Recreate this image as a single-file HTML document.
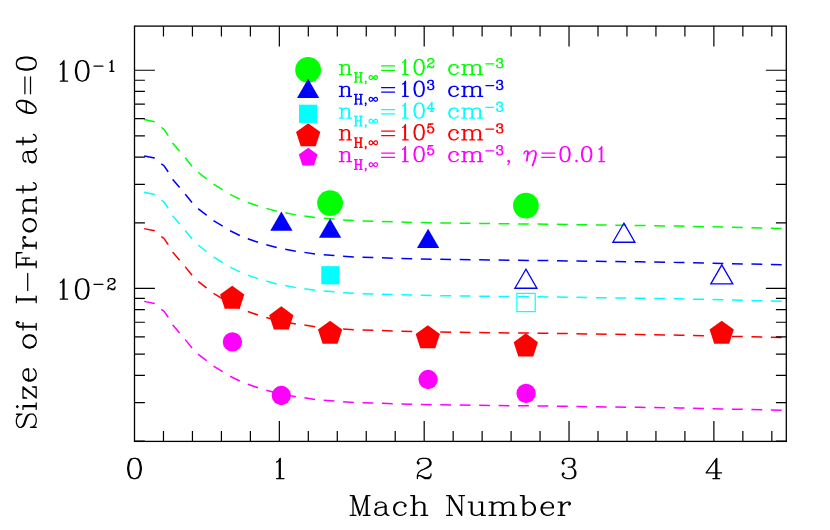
<!DOCTYPE html><html><head><meta charset="utf-8"><title>plot</title>
<style>html,body{margin:0;padding:0;background:#fff;}svg{display:block;font-family:"Liberation Serif",serif;}</style></head><body>
<svg width="830" height="530" viewBox="0 0 830 530">
<title>Size of I-Front at theta=0 versus Mach Number</title>
<desc>Log-scale plot. Y axis: Size of I-Front at theta=0 (10^-2 to 10^-1). X axis: Mach Number (0 to 4). Legend: n_H,inf=10^2 cm^-3 (green circles), n_H,inf=10^3 cm^-3 (blue triangles), n_H,inf=10^4 cm^-3 (cyan squares), n_H,inf=10^5 cm^-3 (red pentagons), n_H,inf=10^5 cm^-3, eta=0.01 (magenta pentagons). Dashed model curves for each density.</desc>
<rect width="830" height="530" fill="#fff"/>
<path d="M144.14 119.54 L154.50 121.70 L161.48 127.50 L164.20 129.60 L168.10 135.40 L172.80 143.20 L179.70 151.30 L185.30 157.80 L192.10 166.30 L198.40 172.50 L206.50 178.80 L213.50 184.20 L222.70 189.80 L230.00 194.30 L239.80 199.10 L247.70 202.40 L258.20 206.00 L266.10 208.30 L276.70 211.20 L285.10 212.80 L295.90 214.90 L304.40 216.00 L315.20 217.60 L323.30 218.30 L334.10 219.10 L343.00 219.90 L353.80 220.60 L362.30 220.90 L373.00 221.20 L381.80 221.40 L393.10 221.80 L412.40 222.40 L431.70 222.80 L451.30 223.10 L509.20 223.80 L537.00 224.10 L640.00 225.50 L680.00 226.10 L781.70 228.40 L786.30 228.50" fill="none" stroke="#00ff00" stroke-width="1.5" stroke-dasharray="10.8 8.65"/>
<path d="M144.14 155.91 L154.50 158.07 L161.48 163.87 L164.20 165.97 L168.10 171.77 L172.80 179.57 L179.70 187.67 L185.30 194.17 L192.10 202.67 L198.40 208.87 L206.50 215.17 L213.50 220.57 L222.70 226.17 L230.00 230.67 L239.80 235.47 L247.70 238.77 L258.20 242.37 L266.10 244.67 L276.70 247.57 L285.10 249.17 L295.90 251.27 L304.40 252.37 L315.20 253.97 L323.30 254.67 L334.10 255.47 L343.00 256.27 L353.80 256.97 L362.30 257.27 L373.00 257.57 L381.80 257.77 L393.10 258.17 L412.40 258.77 L431.70 259.17 L451.30 259.47 L509.20 260.17 L537.00 260.47 L640.00 261.87 L680.00 262.47 L781.70 264.77 L786.30 264.87" fill="none" stroke="#0000ff" stroke-width="1.5" stroke-dasharray="10.8 8.65"/>
<path d="M144.14 192.27 L154.50 194.43 L161.48 200.23 L164.20 202.33 L168.10 208.13 L172.80 215.93 L179.70 224.03 L185.30 230.53 L192.10 239.03 L198.40 245.23 L206.50 251.53 L213.50 256.93 L222.70 262.53 L230.00 267.03 L239.80 271.83 L247.70 275.13 L258.20 278.73 L266.10 281.03 L276.70 283.93 L285.10 285.53 L295.90 287.63 L304.40 288.73 L315.20 290.33 L323.30 291.03 L334.10 291.83 L343.00 292.63 L353.80 293.33 L362.30 293.63 L373.00 293.93 L381.80 294.13 L393.10 294.53 L412.40 295.13 L431.70 295.53 L451.30 295.83 L509.20 296.53 L537.00 296.83 L640.00 298.23 L680.00 298.83 L781.70 301.13 L786.30 301.23" fill="none" stroke="#00ffff" stroke-width="1.5" stroke-dasharray="10.8 8.65"/>
<path d="M144.14 228.64 L154.50 230.80 L161.48 236.60 L164.20 238.70 L168.10 244.50 L172.80 252.30 L179.70 260.40 L185.30 266.90 L192.10 275.40 L198.40 281.60 L206.50 287.90 L213.50 293.30 L222.70 298.90 L230.00 303.40 L239.80 308.20 L247.70 311.50 L258.20 315.10 L266.10 317.40 L276.70 320.30 L285.10 321.90 L295.90 324.00 L304.40 325.10 L315.20 326.70 L323.30 327.40 L334.10 328.20 L343.00 329.00 L353.80 329.70 L362.30 330.00 L373.00 330.30 L381.80 330.50 L393.10 330.90 L412.40 331.50 L431.70 331.90 L451.30 332.20 L509.20 332.90 L537.00 333.20 L640.00 334.60 L680.00 335.20 L781.70 337.50 L786.30 337.60" fill="none" stroke="#ff0000" stroke-width="1.5" stroke-dasharray="10.8 8.65"/>
<path d="M144.14 301.39 L154.50 303.55 L161.48 309.35 L164.20 311.45 L168.10 317.25 L172.80 325.05 L179.70 333.15 L185.30 339.65 L192.10 348.15 L198.40 354.35 L206.50 360.65 L213.50 366.05 L222.70 371.65 L230.00 376.15 L239.80 380.95 L247.70 384.25 L258.20 387.85 L266.10 390.15 L276.70 393.05 L285.10 394.65 L295.90 396.75 L304.40 397.85 L315.20 399.45 L323.30 400.15 L334.10 400.95 L343.00 401.75 L353.80 402.45 L362.30 402.75 L373.00 403.05 L381.80 403.25 L393.10 403.65 L412.40 404.25 L431.70 404.65 L451.30 404.95 L509.20 405.65 L537.00 405.95 L640.00 407.35 L680.00 407.95 L781.70 410.25 L786.30 410.35" fill="none" stroke="#ff00ff" stroke-width="1.5" stroke-dasharray="10.8 8.65"/>
<circle cx="330.06" cy="203.10" r="12.90" fill="#00ff00"/>
<circle cx="525.90" cy="205.60" r="12.90" fill="#00ff00"/>
<polygon points="281.40,211.45 292.53,230.73 270.27,230.73" fill="#0000ff"/>
<polygon points="330.10,218.55 341.23,237.83 318.97,237.83" fill="#0000ff"/>
<polygon points="428.10,228.75 439.23,248.03 416.97,248.03" fill="#0000ff"/>
<polygon points="525.90,269.20 536.90,288.25 514.90,288.25" fill="none" stroke="#0000ff" stroke-width="1.3"/>
<polygon points="623.90,223.20 634.90,242.25 612.90,242.25" fill="none" stroke="#0000ff" stroke-width="1.3"/>
<polygon points="721.80,264.90 732.80,283.95 710.80,283.95" fill="none" stroke="#0000ff" stroke-width="1.3"/>
<rect x="321.30" y="266.15" width="18.20" height="18.20" fill="#00ffff"/>
<rect x="516.90" y="293.35" width="18.30" height="18.30" fill="none" stroke="#00ffff" stroke-width="1.2"/>
<polygon points="232.20,285.75 244.33,294.56 239.69,308.81 224.71,308.81 220.07,294.56" fill="#ff0000"/>
<polygon points="281.30,306.35 293.43,315.16 288.79,329.41 273.81,329.41 269.17,315.16" fill="#ff0000"/>
<polygon points="330.10,320.70 342.23,329.51 337.59,343.76 322.61,343.76 317.97,329.51" fill="#ff0000"/>
<polygon points="427.80,325.15 439.93,333.96 435.29,348.21 420.31,348.21 415.67,333.96" fill="#ff0000"/>
<polygon points="525.80,333.35 537.93,342.16 533.29,356.41 518.31,356.41 513.67,342.16" fill="#ff0000"/>
<polygon points="721.70,320.75 733.83,329.56 729.19,343.81 714.21,343.81 709.57,329.56" fill="#ff0000"/>
<circle cx="232.40" cy="341.90" r="9.65" fill="#ff00ff"/>
<circle cx="281.30" cy="395.50" r="9.65" fill="#ff00ff"/>
<circle cx="428.10" cy="379.50" r="9.65" fill="#ff00ff"/>
<circle cx="526.10" cy="393.40" r="9.65" fill="#ff00ff"/>
<circle cx="308.10" cy="69.90" r="12.90" fill="#00ff00"/>
<polygon points="308.10,78.75 319.23,98.02 296.97,98.02" fill="#0000ff"/>
<rect x="299.05" y="104.70" width="18.20" height="18.20" fill="#00ffff"/>
<polygon points="308.20,123.20 320.33,132.01 315.69,146.26 300.71,146.26 296.07,132.01" fill="#ff0000"/>
<polygon points="308.20,147.75 317.57,154.56 313.99,165.57 302.41,165.57 298.83,154.56" fill="#ff00ff"/>
<g stroke="#000" stroke-width="1.30" fill="none">
<rect x="134.50" y="26.10" width="651.80" height="415.30"/>
<path d="M163.47 441.40V431.00M163.47 26.10V36.50M192.44 441.40V431.00M192.44 26.10V36.50M221.41 441.40V431.00M221.41 26.10V36.50M250.38 441.40V431.00M250.38 26.10V36.50M279.34 441.40V421.00M279.34 26.10V46.50M308.31 441.40V431.00M308.31 26.10V36.50M337.28 441.40V431.00M337.28 26.10V36.50M366.25 441.40V431.00M366.25 26.10V36.50M395.22 441.40V431.00M395.22 26.10V36.50M424.19 441.40V421.00M424.19 26.10V46.50M453.16 441.40V431.00M453.16 26.10V36.50M482.13 441.40V431.00M482.13 26.10V36.50M511.10 441.40V431.00M511.10 26.10V36.50M540.06 441.40V431.00M540.06 26.10V36.50M569.03 441.40V421.00M569.03 26.10V46.50M598.00 441.40V431.00M598.00 26.10V36.50M626.97 441.40V431.00M626.97 26.10V36.50M655.94 441.40V431.00M655.94 26.10V36.50M684.91 441.40V431.00M684.91 26.10V36.50M713.88 441.40V421.00M713.88 26.10V46.50M742.85 441.40V431.00M742.85 26.10V36.50M771.82 441.40V431.00M771.82 26.10V36.50M134.50 440.99H144.90M786.30 440.99H775.90M134.50 402.56H144.90M786.30 402.56H775.90M134.50 375.30H144.90M786.30 375.30H775.90M134.50 354.15H144.90M786.30 354.15H775.90M134.50 336.88H144.90M786.30 336.88H775.90M134.50 322.27H144.90M786.30 322.27H775.90M134.50 309.62H144.90M786.30 309.62H775.90M134.50 298.45H144.90M786.30 298.45H775.90M134.50 288.47H154.90M786.30 288.47H765.90M134.50 222.79H144.90M786.30 222.79H775.90M134.50 184.36H144.90M786.30 184.36H775.90M134.50 157.10H144.90M786.30 157.10H775.90M134.50 135.95H144.90M786.30 135.95H775.90M134.50 118.68H144.90M786.30 118.68H775.90M134.50 104.07H144.90M786.30 104.07H775.90M134.50 91.42H144.90M786.30 91.42H775.90M134.50 80.25H144.90M786.30 80.25H775.90M134.50 70.27H154.90M786.30 70.27H765.90" stroke-width="1.2"/>
</g>
<path d="M133.5 458.3L130.6 459.2L128.7 462.1L127.7 467.0L127.7 469.9L128.7 474.7L130.6 477.6L133.5 478.6L135.5 478.6L138.4 477.6L140.3 474.7L141.3 469.9L141.3 467.0L140.3 462.1L138.4 459.2L135.5 458.3L133.5 458.3L131.6 459.2L130.6 460.2L129.7 462.1L128.7 467.0L128.7 469.9L129.7 474.7L130.6 476.7L131.6 477.6L133.5 478.6M135.5 458.3L137.4 459.2L138.4 460.2L139.3 462.1L140.3 467.0L140.3 469.9L139.3 474.7L138.4 476.7L137.4 477.6L135.5 478.6" fill="none" stroke="#000" stroke-width="1.25" stroke-linecap="round" stroke-linejoin="round"/>
<path d="M276.6 462.1L278.4 461.0L280.3 458.3L280.3 478.6L284.0 478.6M276.6 478.6L280.3 478.6M279.3 459.2L279.3 478.6" fill="none" stroke="#000" stroke-width="1.25" stroke-linecap="round" stroke-linejoin="round"/>
<path d="M417.4 478.6L417.4 475.7L418.4 472.8L420.3 470.9L422.3 469.9L427.1 468.0L430.0 466.0L431.0 464.1L431.0 462.1L430.0 460.2L429.0 459.2L426.1 458.3L422.3 458.3L419.3 459.2L418.4 460.2L417.4 462.1L417.4 463.1L418.4 464.1L419.3 463.1L418.4 462.1M424.2 468.9L426.1 468.0L429.0 466.0L430.0 464.1L430.0 462.1L429.0 460.2L428.1 459.2L426.1 458.3M431.0 473.8L431.0 475.7L430.0 477.6L429.0 478.6L425.2 478.6L420.3 475.7L418.4 475.7L417.4 476.7M420.3 475.7L425.2 477.6L428.1 477.6L430.0 476.7L431.0 475.7" fill="none" stroke="#000" stroke-width="1.25" stroke-linecap="round" stroke-linejoin="round"/>
<path d="M563.2 462.1L564.2 463.1L563.2 464.1L562.3 463.1L562.3 462.1L563.2 460.2L564.2 459.2L567.1 458.3L571.0 458.3L573.9 459.2L574.8 461.2L574.8 464.1L573.9 466.0L571.0 467.0L568.1 467.0M563.2 474.7L564.2 473.8L563.2 472.8L562.3 473.8L562.3 474.7L563.2 476.7L564.2 477.6L567.1 478.6L571.0 478.6L573.9 477.6L574.8 476.7L575.8 474.7L575.8 471.8L574.8 469.9L572.9 468.0L571.0 467.0L572.9 466.0L573.9 464.1L573.9 461.2L572.9 459.2L571.0 458.3M571.0 478.6L572.9 477.6L573.9 476.7L574.8 474.7L574.8 471.8L573.9 468.9" fill="none" stroke="#000" stroke-width="1.25" stroke-linecap="round" stroke-linejoin="round"/>
<path d="M712.9 478.6L719.7 478.6M715.8 460.2L715.8 478.6M721.6 472.8L706.1 472.8L709.0 468.9L713.9 462.1L716.8 458.3L716.8 478.6" fill="none" stroke="#000" stroke-width="1.25" stroke-linecap="round" stroke-linejoin="round"/>
<path d="M60.3 64.5L62.1 63.4L64.0 60.7L64.0 81.0L67.6 81.0M60.3 81.0L64.0 81.0M63.0 61.6L63.0 81.0M81.3 60.7L78.4 61.6L76.5 64.5L75.5 69.4L75.5 72.3L76.5 77.1L78.4 80.0L81.3 81.0L83.2 81.0L86.1 80.0L88.0 77.1L88.9 72.3L88.9 69.4L88.0 64.5L86.1 61.6L83.2 60.7L81.3 60.7L79.3 61.6L78.4 62.6L77.4 64.5L76.5 69.4L76.5 72.3L77.4 77.1L78.4 79.1L79.3 80.0L81.3 81.0M83.2 60.7L85.1 61.6L86.1 62.6L87.0 64.5L88.0 69.4L88.0 72.3L87.0 77.1L86.1 79.1L85.1 80.0L83.2 81.0" fill="none" stroke="#000" stroke-width="1.25" stroke-linecap="round" stroke-linejoin="round"/>
<path d="M94.0 66.2L102.9 66.2" fill="none" stroke="#000" stroke-width="1.25" stroke-linecap="round" stroke-linejoin="round"/>
<path d="M110.0 62.4L111.0 61.7L112.0 60.3L112.0 71.3L113.9 71.3M110.0 71.3L112.0 71.3M111.5 60.8L111.5 71.3" fill="none" stroke="#000" stroke-width="1.25" stroke-linecap="round" stroke-linejoin="round"/>
<path d="M60.3 282.7L62.1 281.6L64.0 278.9L64.0 299.2L67.6 299.2M60.3 299.2L64.0 299.2M63.0 279.8L63.0 299.2M81.3 278.9L78.4 279.8L76.5 282.7L75.5 287.6L75.5 290.5L76.5 295.3L78.4 298.2L81.3 299.2L83.2 299.2L86.1 298.2L88.0 295.3L88.9 290.5L88.9 287.6L88.0 282.7L86.1 279.8L83.2 278.9L81.3 278.9L79.3 279.8L78.4 280.8L77.4 282.7L76.5 287.6L76.5 290.5L77.4 295.3L78.4 297.3L79.3 298.2L81.3 299.2M83.2 278.9L85.1 279.8L86.1 280.8L87.0 282.7L88.0 287.6L88.0 290.5L87.0 295.3L86.1 297.3L85.1 298.2L83.2 299.2" fill="none" stroke="#000" stroke-width="1.25" stroke-linecap="round" stroke-linejoin="round"/>
<path d="M94.0 284.4L102.9 284.4" fill="none" stroke="#000" stroke-width="1.25" stroke-linecap="round" stroke-linejoin="round"/>
<path d="M108.0 289.6L108.0 288.0L108.5 286.4L109.5 285.3L110.5 284.8L113.0 283.7L114.5 282.7L115.0 281.6L115.0 280.6L114.5 279.5L114.0 279.0L112.5 278.5L110.5 278.5L109.0 279.0L108.5 279.5L108.0 280.6L108.0 281.1L108.5 281.6L109.0 281.1L108.5 280.6M111.5 284.3L112.5 283.7L114.0 282.7L114.5 281.6L114.5 280.6L114.0 279.5L113.5 279.0L112.5 278.5M115.0 286.9L115.0 288.0L114.5 289.0L114.0 289.6L112.0 289.6L109.5 288.0L108.5 288.0L108.0 288.5M109.5 288.0L112.0 289.0L113.5 289.0L114.5 288.5L115.0 288.0" fill="none" stroke="#000" stroke-width="1.25" stroke-linecap="round" stroke-linejoin="round"/>
<path d="M350.2 495.6L354.0 495.6L359.6 512.6M350.2 515.4L355.9 515.4M363.4 515.4L370.0 515.4M370.0 495.6L366.3 495.6L359.6 515.4L353.0 495.6L353.0 515.4M366.3 495.6L366.3 515.4M367.2 495.6L367.2 515.4M376.7 504.1L376.7 505.0L375.7 505.0L375.7 504.1L376.7 503.1L378.6 502.2L382.3 502.2L384.2 503.1L385.2 504.1L386.1 505.9L386.1 512.6L387.1 514.5L388.0 515.4L388.9 515.4M378.6 507.8L384.2 506.9L385.2 505.9L385.2 504.1M378.6 507.8L375.7 508.8L374.8 510.7L374.8 512.6L375.7 514.5L378.6 515.4L381.4 515.4L383.3 514.5L385.2 512.6L385.2 505.9M378.6 507.8L376.7 508.8L375.7 510.7L375.7 512.6L376.7 514.5L378.6 515.4M385.2 512.6L386.1 514.5L388.0 515.4M405.0 505.0L404.1 505.9L405.0 506.9L406.0 505.9L406.0 505.0L404.1 503.1L402.2 502.2L399.3 502.2L396.5 503.1L394.6 505.0L393.7 507.8L393.7 509.7L394.6 512.6L396.5 514.5L399.3 515.4L401.2 515.4L404.1 514.5L406.0 512.6M399.3 502.2L397.4 503.1L395.6 505.0L394.6 507.8L394.6 509.7L395.6 512.6L397.4 514.5L399.3 515.4M410.7 495.6L414.5 495.6L414.5 515.4L410.7 515.4M417.3 515.4L414.5 515.4M421.1 515.4L427.7 515.4M413.5 495.6L413.5 515.4M414.5 505.0L416.4 503.1L419.2 502.2L421.1 502.2L423.9 503.1L424.9 505.0L424.9 515.4M421.1 502.2L423.0 503.1L423.9 505.0L423.9 515.4M446.6 495.6L450.4 495.6L452.3 498.4L455.1 503.1L457.0 505.9L459.8 510.7L461.7 513.5L461.7 515.4L459.8 512.6L457.0 507.8L455.1 505.0L452.3 500.3L450.4 497.4M446.6 515.4L452.3 515.4M458.9 495.6L464.5 495.6M449.4 495.6L449.4 515.4M461.7 495.6L461.7 513.5M468.3 502.2L472.1 502.2L472.1 512.6L473.1 514.5L474.9 515.4L476.8 515.4L479.7 514.5L481.6 512.6L481.6 502.2L482.5 502.2L482.5 515.4L481.6 515.4L481.6 512.6M478.7 502.2L481.6 502.2M485.3 515.4L482.5 515.4M471.2 502.2L471.2 512.6L472.1 514.5L474.9 515.4M489.1 502.2L492.9 502.2L492.9 515.4L489.1 515.4M495.7 515.4L492.9 515.4M499.5 515.4L506.1 515.4M509.9 515.4L516.5 515.4M491.9 502.2L491.9 515.4M492.9 505.0L494.8 503.1L497.6 502.2L499.5 502.2L502.3 503.1L503.3 505.0L503.3 515.4M499.5 502.2L501.4 503.1L502.3 505.0L502.3 515.4M503.3 505.0L505.2 503.1L508.0 502.2L509.9 502.2L512.7 503.1L513.7 505.0L513.7 515.4M509.9 502.2L511.8 503.1L512.7 505.0L512.7 515.4M520.3 495.6L524.1 495.6L524.1 515.4M523.1 515.4L523.1 495.6M524.1 505.0L526.0 503.1L527.9 502.2L529.8 502.2L532.6 503.1L534.5 505.0L535.4 507.8L535.4 509.7L534.5 512.6L532.6 514.5L529.8 515.4L527.9 515.4L526.0 514.5L524.1 512.6M529.8 502.2L531.6 503.1L533.5 505.0L534.5 507.8L534.5 509.7L533.5 512.6L531.6 514.5L529.8 515.4M553.4 512.6L551.5 514.5L548.6 515.4L546.8 515.4L543.9 514.5L542.0 512.6L541.1 509.7L541.1 507.8L542.0 505.0L543.9 503.1L546.8 502.2L549.6 502.2L551.5 503.1L552.4 504.1L553.4 505.9L553.4 507.8L542.0 507.8L542.0 509.7L543.0 512.6L544.9 514.5L546.8 515.4M542.0 507.8L543.0 505.0L544.9 503.1L546.8 502.2M551.5 503.1L552.4 505.0L552.4 507.8M558.1 502.2L561.9 502.2L561.9 515.4L558.1 515.4M564.7 515.4L561.9 515.4M569.4 503.1L568.5 504.1L569.4 505.0L570.4 504.1L570.4 503.1L569.4 502.2L566.6 502.2L564.7 503.1L562.8 505.0L561.9 507.8M560.9 502.2L560.9 515.4" fill="none" stroke="#000" stroke-width="1.25" stroke-linecap="round" stroke-linejoin="round"/>
<path d="M21.1 427.4L23.0 425.5L23.9 423.6L25.8 417.9L26.8 416.1L27.7 415.1L29.6 414.2L33.4 414.2L35.3 416.1L36.2 418.9L36.2 421.7L35.3 424.6L33.4 426.5L30.5 427.4L36.2 427.4L33.4 426.5M21.1 427.4L23.0 426.5L23.9 425.5L24.9 423.6L26.8 417.9L27.7 416.1L29.6 414.2M21.1 427.4L19.2 427.4L17.3 425.5L16.4 422.7L16.4 419.8L17.3 417.0L19.2 415.1L22.0 414.2L16.4 414.2L19.2 415.1M23.0 409.4L23.0 405.7L36.2 405.7L36.2 409.4M36.2 402.8L36.2 405.7M23.0 406.6L36.2 406.6M17.3 407.6L18.2 406.6L17.3 405.7L16.4 406.6L17.3 407.6M23.0 397.2L23.0 386.8L27.7 390.5L31.5 393.4L36.2 397.2L36.2 398.1L31.5 394.3L27.7 391.5L23.0 387.7M23.0 397.2L26.8 398.1L23.0 398.1L23.0 397.2M36.2 397.2L36.2 386.8L32.4 386.8L36.2 387.7M33.4 368.8L35.3 370.7L36.2 373.5L36.2 375.4L35.3 378.3L33.4 380.1L30.5 381.1L28.6 381.1L25.8 380.1L23.9 378.3L23.0 375.4L23.0 372.6L23.9 370.7L24.9 369.8L26.8 368.8L28.6 368.8L28.6 380.1L30.5 380.1L33.4 379.2L35.3 377.3L36.2 375.4M28.6 380.1L25.8 379.2L23.9 377.3L23.0 375.4M23.9 370.7L25.8 369.8L28.6 369.8M23.0 342.3L23.9 344.2L25.8 346.1L28.6 347.1L30.5 347.1L33.4 346.1L35.3 344.2L36.2 342.3L36.2 340.5L35.3 337.6L33.4 335.7L30.5 334.8L28.6 334.8L25.8 335.7L23.9 337.6L23.0 340.5L23.0 342.3L23.9 345.2L25.8 347.1L28.6 348.0L30.5 348.0L33.4 347.1L35.3 345.2L36.2 342.3M23.0 340.5L23.9 338.6L25.8 336.7L28.6 335.7L30.5 335.7L33.4 336.7L35.3 338.6L36.2 340.5M23.0 330.1L23.0 322.5M36.2 330.1L36.2 323.4M17.3 322.5L18.2 323.4L19.2 322.5L18.2 321.6L17.3 321.6L16.4 322.5L16.4 324.4L17.3 326.3L19.2 327.2L36.2 327.2M36.2 326.3L19.2 326.3L17.3 325.3L16.4 324.4M16.4 302.7L16.4 296.0M36.2 302.7L36.2 296.0M16.4 299.8L36.2 299.8M16.4 298.9L36.2 298.9M27.7 290.4L27.7 273.4M16.4 267.7L16.4 252.6L21.1 252.6M36.2 267.7L36.2 261.1M22.0 258.2L29.6 258.2M22.0 252.6L16.4 253.5M16.4 264.9L36.2 264.9M16.4 263.9L36.2 263.9M25.8 263.9L25.8 258.2M23.0 248.8L23.0 245.0L36.2 245.0L36.2 248.8M36.2 242.2L36.2 245.0M23.9 237.5L24.9 238.4L25.8 237.5L24.9 236.5L23.9 236.5L23.0 237.5L23.0 240.3L23.9 242.2L25.8 244.1L28.6 245.0M23.0 246.0L36.2 246.0M23.0 226.1L23.9 228.0L25.8 229.9L28.6 230.8L30.5 230.8L33.4 229.9L35.3 228.0L36.2 226.1L36.2 224.2L35.3 221.4L33.4 219.5L30.5 218.6L28.6 218.6L25.8 219.5L23.9 221.4L23.0 224.2L23.0 226.1L23.9 228.9L25.8 230.8L28.6 231.8L30.5 231.8L33.4 230.8L35.3 228.9L36.2 226.1M23.0 224.2L23.9 222.3L25.8 220.4L28.6 219.5L30.5 219.5L33.4 220.4L35.3 222.3L36.2 224.2M23.0 213.8L23.0 210.0L36.2 210.0L36.2 213.8M36.2 207.2L36.2 210.0M36.2 203.4L36.2 196.8M23.0 211.0L36.2 211.0M25.8 210.0L23.9 208.2L23.0 205.3L23.0 203.4L23.9 200.6L25.8 199.7L36.2 199.7M23.0 203.4L23.9 201.5L25.8 200.6L36.2 200.6M23.0 193.0L23.0 185.5M16.4 190.2L32.4 190.2L35.3 189.3L36.2 187.4L36.2 185.5L35.3 183.6L33.4 182.6M16.4 189.3L32.4 189.3L35.3 188.3L36.2 187.4M24.9 160.9L25.8 160.9L25.8 161.9L24.9 161.9L23.9 160.9L23.0 159.0L23.0 155.2L23.9 153.3L24.9 152.4L26.8 151.5L33.4 151.5L35.3 150.5L36.2 149.6L36.2 148.6M28.6 159.0L27.7 153.3L26.8 152.4L24.9 152.4M28.6 159.0L29.6 161.9L31.5 162.8L33.4 162.8L35.3 161.9L36.2 159.0L36.2 156.2L35.3 154.3L33.4 152.4L26.8 152.4M28.6 159.0L29.6 160.9L31.5 161.9L33.4 161.9L35.3 160.9L36.2 159.0M33.4 152.4L35.3 151.5L36.2 149.6M23.0 144.8L23.0 137.3M16.4 142.0L32.4 142.0L35.3 141.1L36.2 139.2L36.2 137.3L35.3 135.4L33.4 134.4M16.4 141.1L32.4 141.1L35.3 140.1L36.2 139.2M26.3 100.9L29.3 102.1L32.1 103.7L34.3 105.6L35.7 107.7L36.2 109.6L35.7 111.3L34.3 112.6L32.1 113.3L29.3 113.4L26.3 112.8L23.2 111.7L20.4 110.0L18.3 108.1L16.8 106.1L16.4 104.1L16.8 102.4L18.3 101.1L20.4 100.4L23.2 100.3L26.3 100.9M26.3 101.8L29.3 103.0L32.1 104.4L34.3 106.2L35.7 108.0L36.2 109.6L35.7 111.0L34.3 112.0L32.1 112.5L29.3 112.5L26.3 111.9L23.2 110.8L20.4 109.3L18.3 107.6L16.8 105.8L16.4 104.1L16.8 102.7L18.3 101.7L20.4 101.2L23.2 101.2L26.3 101.8M26.3 112.3L26.3 101.4M24.9 93.8L24.9 76.8M30.5 93.8L30.5 76.8M16.4 64.5L17.3 67.4L20.1 69.2L24.9 70.2L27.7 70.2L32.4 69.2L35.3 67.4L36.2 64.5L36.2 62.6L35.3 59.8L32.4 57.9L27.7 57.0L24.9 57.0L20.1 57.9L17.3 59.8L16.4 62.6L16.4 64.5L17.3 66.4L18.2 67.4L20.1 68.3L24.9 69.2L27.7 69.2L32.4 68.3L34.3 67.4L35.3 66.4L36.2 64.5M16.4 62.6L17.3 60.7L18.2 59.8L20.1 58.8L24.9 57.9L27.7 57.9L32.4 58.8L34.3 59.8L35.3 60.7L36.2 62.6" fill="none" stroke="#000" stroke-width="1.25" stroke-linecap="round" stroke-linejoin="round"/>
<path d="M339.4 64.5L342.1 64.5L342.1 74.6L339.4 74.6M344.1 74.6L342.1 74.6M346.8 74.6L351.5 74.6M341.5 64.5L341.5 74.6M342.1 66.7L343.5 65.2L345.5 64.5L346.8 64.5L348.8 65.2L349.5 66.7L349.5 74.6M346.8 64.5L348.2 65.2L348.8 66.7L348.8 74.6" fill="none" stroke="#00ff00" stroke-width="1.25" stroke-linecap="round" stroke-linejoin="round"/>
<path d="M354.5 72.6L357.2 72.6M354.5 82.2L357.2 82.2M359.6 72.6L362.2 72.6M359.6 82.2L362.2 82.2M355.7 72.6L355.7 82.2M356.1 72.6L356.1 82.2M356.1 77.2L360.7 77.2L360.7 72.6M360.7 77.2L360.7 82.2M361.1 72.6L361.1 82.2" fill="none" stroke="#00ff00" stroke-width="1.25" stroke-linecap="round" stroke-linejoin="round"/>
<path d="M365.3 83.7L365.7 83.3L366.1 82.4L366.1 81.6L365.7 81.2L365.3 81.6L365.7 82.0L366.1 81.6" fill="none" stroke="#00ff00" stroke-width="1.25" stroke-linecap="round" stroke-linejoin="round"/>
<path d="M377.5 77.5L377.2 78.6L376.7 79.2L376.0 79.5L375.3 79.4L374.7 79.1L374.2 78.6L373.7 78.1L373.3 77.5L372.9 77.0L372.4 76.5L371.9 76.0L371.3 75.7L370.6 75.6L369.9 75.9L369.4 76.5L369.1 77.5L369.4 78.6L369.9 79.2L370.6 79.5L371.3 79.4L371.9 79.1L372.4 78.6L372.9 78.1L373.3 77.5L373.7 77.0L374.2 76.5L374.7 76.0L375.3 75.7L376.0 75.6L376.7 75.9L377.2 76.5L377.5 77.5" fill="none" stroke="#00ff00" stroke-width="1.25" stroke-linecap="round" stroke-linejoin="round"/>
<path d="M381.6 65.9L394.6 65.9M381.6 70.3L394.6 70.3M402.7 62.3L404.0 61.5L405.5 59.4L405.5 74.6L408.2 74.6M402.7 74.6L405.5 74.6M404.7 60.2L404.7 74.6M418.4 59.4L416.3 60.2L414.8 62.3L414.1 65.9L414.1 68.1L414.8 71.7L416.3 73.9L418.4 74.6L419.9 74.6L422.1 73.9L423.5 71.7L424.2 68.1L424.2 65.9L423.5 62.3L422.1 60.2L419.9 59.4L418.4 59.4L417.0 60.2L416.3 60.9L415.6 62.3L414.8 65.9L414.8 68.1L415.6 71.7L416.3 73.2L417.0 73.9L418.4 74.6M419.9 59.4L421.3 60.2L422.1 60.9L422.8 62.3L423.5 65.9L423.5 68.1L422.8 71.7L422.1 73.2L421.3 73.9L419.9 74.6M427.7 67.7L427.7 66.4L428.1 65.1L429.0 64.3L429.9 63.8L432.0 63.0L433.3 62.1L433.8 61.2L433.8 60.4L433.3 59.5L432.9 59.1L431.6 58.6L429.9 58.6L428.6 59.1L428.1 59.5L427.7 60.4L427.7 60.8L428.1 61.2L428.6 60.8L428.1 60.4M430.7 63.4L431.6 63.0L432.9 62.1L433.3 61.2L433.3 60.4L432.9 59.5L432.5 59.1L431.6 58.6M433.8 65.6L433.8 66.4L433.3 67.3L432.9 67.7L431.2 67.7L429.0 66.4L428.1 66.4L427.7 66.9M429.0 66.4L431.2 67.3L432.5 67.3L433.3 66.9L433.8 66.4M457.4 66.7L456.7 67.4L457.4 68.1L458.2 67.4L458.2 66.7L456.7 65.2L455.3 64.5L453.1 64.5L450.9 65.2L449.5 66.7L448.8 68.8L448.8 70.3L449.5 72.4L450.9 73.9L453.1 74.6L454.6 74.6L456.7 73.9L458.2 72.4M453.1 64.5L451.7 65.2L450.2 66.7L449.5 68.8L449.5 70.3L450.2 72.4L451.7 73.9L453.1 74.6M461.8 64.5L464.7 64.5L464.7 74.6L461.8 74.6M466.8 74.6L464.7 74.6M469.7 74.6L474.8 74.6M477.7 74.6L482.7 74.6M463.9 64.5L463.9 74.6M464.7 66.7L466.1 65.2L468.3 64.5L469.7 64.5L471.9 65.2L472.6 66.7L472.6 74.6M469.7 64.5L471.2 65.2L471.9 66.7L471.9 74.6M472.6 66.7L474.0 65.2L476.2 64.5L477.7 64.5L479.8 65.2L480.5 66.7L480.5 74.6M477.7 64.5L479.1 65.2L479.8 66.7L479.8 74.6M485.9 63.8L493.7 63.8M497.1 60.4L497.6 60.8L497.1 61.2L496.7 60.8L496.7 60.4L497.1 59.5L497.6 59.1L498.9 58.6L500.6 58.6L501.9 59.1L502.3 59.9L502.3 61.2L501.9 62.1L500.6 62.5L499.3 62.5M497.1 66.0L497.6 65.6L497.1 65.1L496.7 65.6L496.7 66.0L497.1 66.9L497.6 67.3L498.9 67.7L500.6 67.7L501.9 67.3L502.3 66.9L502.8 66.0L502.8 64.7L502.3 63.8L501.5 63.0L500.6 62.5L501.5 62.1L501.9 61.2L501.9 59.9L501.5 59.1L500.6 58.6M500.6 67.7L501.5 67.3L501.9 66.9L502.3 66.0L502.3 64.7L501.9 63.4" fill="none" stroke="#00ff00" stroke-width="1.25" stroke-linecap="round" stroke-linejoin="round"/>
<path d="M339.4 86.3L342.1 86.3L342.1 96.4L339.4 96.4M344.1 96.4L342.1 96.4M346.8 96.4L351.5 96.4M341.5 86.3L341.5 96.4M342.1 88.5L343.5 87.0L345.5 86.3L346.8 86.3L348.8 87.0L349.5 88.5L349.5 96.4M346.8 86.3L348.2 87.0L348.8 88.5L348.8 96.4" fill="none" stroke="#0000ff" stroke-width="1.25" stroke-linecap="round" stroke-linejoin="round"/>
<path d="M354.5 94.4L357.2 94.4M354.5 104.0L357.2 104.0M359.6 94.4L362.2 94.4M359.6 104.0L362.2 104.0M355.7 94.4L355.7 104.0M356.1 94.4L356.1 104.0M356.1 99.0L360.7 99.0L360.7 94.4M360.7 99.0L360.7 104.0M361.1 94.4L361.1 104.0" fill="none" stroke="#0000ff" stroke-width="1.25" stroke-linecap="round" stroke-linejoin="round"/>
<path d="M365.3 105.5L365.7 105.1L366.1 104.2L366.1 103.4L365.7 103.0L365.3 103.4L365.7 103.8L366.1 103.4" fill="none" stroke="#0000ff" stroke-width="1.25" stroke-linecap="round" stroke-linejoin="round"/>
<path d="M377.5 99.4L377.2 100.4L376.7 101.0L376.0 101.3L375.3 101.2L374.7 100.9L374.2 100.4L373.7 99.9L373.3 99.4L372.9 98.8L372.4 98.3L371.9 97.8L371.3 97.5L370.6 97.4L369.9 97.7L369.4 98.3L369.1 99.4L369.4 100.4L369.9 101.0L370.6 101.3L371.3 101.2L371.9 100.9L372.4 100.4L372.9 99.9L373.3 99.4L373.7 98.8L374.2 98.3L374.7 97.8L375.3 97.5L376.0 97.4L376.7 97.7L377.2 98.3L377.5 99.4" fill="none" stroke="#0000ff" stroke-width="1.25" stroke-linecap="round" stroke-linejoin="round"/>
<path d="M381.6 87.7L394.6 87.7M381.6 92.1L394.6 92.1M402.7 84.1L404.0 83.3L405.5 81.2L405.5 96.4L408.2 96.4M402.7 96.4L405.5 96.4M404.7 82.0L404.7 96.4M418.4 81.2L416.3 82.0L414.8 84.1L414.1 87.7L414.1 89.9L414.8 93.5L416.3 95.7L418.4 96.4L419.9 96.4L422.1 95.7L423.5 93.5L424.2 89.9L424.2 87.7L423.5 84.1L422.1 82.0L419.9 81.2L418.4 81.2L417.0 82.0L416.3 82.7L415.6 84.1L414.8 87.7L414.8 89.9L415.6 93.5L416.3 95.0L417.0 95.7L418.4 96.4M419.9 81.2L421.3 82.0L422.1 82.7L422.8 84.1L423.5 87.7L423.5 89.9L422.8 93.5L422.1 95.0L421.3 95.7L419.9 96.4M428.1 82.2L428.6 82.6L428.1 83.0L427.7 82.6L427.7 82.2L428.1 81.3L428.6 80.9L429.9 80.4L431.6 80.4L432.9 80.9L433.3 81.7L433.3 83.0L432.9 83.9L431.6 84.3L430.3 84.3M428.1 87.8L428.6 87.4L428.1 86.9L427.7 87.4L427.7 87.8L428.1 88.7L428.6 89.1L429.9 89.5L431.6 89.5L432.9 89.1L433.3 88.7L433.8 87.8L433.8 86.5L433.3 85.6L432.5 84.8L431.6 84.3L432.5 83.9L432.9 83.0L432.9 81.7L432.5 80.9L431.6 80.4M431.6 89.5L432.5 89.1L432.9 88.7L433.3 87.8L433.3 86.5L432.9 85.2M457.4 88.5L456.7 89.2L457.4 89.9L458.2 89.2L458.2 88.5L456.7 87.0L455.3 86.3L453.1 86.3L450.9 87.0L449.5 88.5L448.8 90.6L448.8 92.1L449.5 94.2L450.9 95.7L453.1 96.4L454.6 96.4L456.7 95.7L458.2 94.2M453.1 86.3L451.7 87.0L450.2 88.5L449.5 90.6L449.5 92.1L450.2 94.2L451.7 95.7L453.1 96.4M461.8 86.3L464.7 86.3L464.7 96.4L461.8 96.4M466.8 96.4L464.7 96.4M469.7 96.4L474.8 96.4M477.7 96.4L482.7 96.4M463.9 86.3L463.9 96.4M464.7 88.5L466.1 87.0L468.3 86.3L469.7 86.3L471.9 87.0L472.6 88.5L472.6 96.4M469.7 86.3L471.2 87.0L471.9 88.5L471.9 96.4M472.6 88.5L474.0 87.0L476.2 86.3L477.7 86.3L479.8 87.0L480.5 88.5L480.5 96.4M477.7 86.3L479.1 87.0L479.8 88.5L479.8 96.4M485.9 85.6L493.7 85.6M497.1 82.2L497.6 82.6L497.1 83.0L496.7 82.6L496.7 82.2L497.1 81.3L497.6 80.9L498.9 80.4L500.6 80.4L501.9 80.9L502.3 81.7L502.3 83.0L501.9 83.9L500.6 84.3L499.3 84.3M497.1 87.8L497.6 87.4L497.1 86.9L496.7 87.4L496.7 87.8L497.1 88.7L497.6 89.1L498.9 89.5L500.6 89.5L501.9 89.1L502.3 88.7L502.8 87.8L502.8 86.5L502.3 85.6L501.5 84.8L500.6 84.3L501.5 83.9L501.9 83.0L501.9 81.7L501.5 80.9L500.6 80.4M500.6 89.5L501.5 89.1L501.9 88.7L502.3 87.8L502.3 86.5L501.9 85.2" fill="none" stroke="#0000ff" stroke-width="1.25" stroke-linecap="round" stroke-linejoin="round"/>
<path d="M339.4 108.1L342.1 108.1L342.1 118.2L339.4 118.2M344.1 118.2L342.1 118.2M346.8 118.2L351.5 118.2M341.5 108.1L341.5 118.2M342.1 110.3L343.5 108.8L345.5 108.1L346.8 108.1L348.8 108.8L349.5 110.3L349.5 118.2M346.8 108.1L348.2 108.8L348.8 110.3L348.8 118.2" fill="none" stroke="#00ffff" stroke-width="1.25" stroke-linecap="round" stroke-linejoin="round"/>
<path d="M354.5 116.2L357.2 116.2M354.5 125.8L357.2 125.8M359.6 116.2L362.2 116.2M359.6 125.8L362.2 125.8M355.7 116.2L355.7 125.8M356.1 116.2L356.1 125.8M356.1 120.8L360.7 120.8L360.7 116.2M360.7 120.8L360.7 125.8M361.1 116.2L361.1 125.8" fill="none" stroke="#00ffff" stroke-width="1.25" stroke-linecap="round" stroke-linejoin="round"/>
<path d="M365.3 127.3L365.7 126.9L366.1 126.0L366.1 125.2L365.7 124.8L365.3 125.2L365.7 125.6L366.1 125.2" fill="none" stroke="#00ffff" stroke-width="1.25" stroke-linecap="round" stroke-linejoin="round"/>
<path d="M377.5 121.2L377.2 122.2L376.7 122.8L376.0 123.1L375.3 123.0L374.7 122.7L374.2 122.2L373.7 121.7L373.3 121.2L372.9 120.6L372.4 120.1L371.9 119.6L371.3 119.3L370.6 119.2L369.9 119.5L369.4 120.1L369.1 121.2L369.4 122.2L369.9 122.8L370.6 123.1L371.3 123.0L371.9 122.7L372.4 122.2L372.9 121.7L373.3 121.2L373.7 120.6L374.2 120.1L374.7 119.6L375.3 119.3L376.0 119.2L376.7 119.5L377.2 120.1L377.5 121.2" fill="none" stroke="#00ffff" stroke-width="1.25" stroke-linecap="round" stroke-linejoin="round"/>
<path d="M381.6 109.5L394.6 109.5M381.6 113.9L394.6 113.9M402.7 105.9L404.0 105.1L405.5 103.0L405.5 118.2L408.2 118.2M402.7 118.2L405.5 118.2M404.7 103.8L404.7 118.2M418.4 103.0L416.3 103.8L414.8 105.9L414.1 109.5L414.1 111.7L414.8 115.3L416.3 117.5L418.4 118.2L419.9 118.2L422.1 117.5L423.5 115.3L424.2 111.7L424.2 109.5L423.5 105.9L422.1 103.8L419.9 103.0L418.4 103.0L417.0 103.8L416.3 104.5L415.6 105.9L414.8 109.5L414.8 111.7L415.6 115.3L416.3 116.8L417.0 117.5L418.4 118.2M419.9 103.0L421.3 103.8L422.1 104.5L422.8 105.9L423.5 109.5L423.5 111.7L422.8 115.3L422.1 116.8L421.3 117.5L419.9 118.2M430.3 111.3L433.3 111.3M431.6 103.1L431.6 111.3M434.2 108.7L427.3 108.7L428.6 107.0L430.7 104.0L432.0 102.2L432.0 111.3M457.4 110.3L456.7 111.0L457.4 111.7L458.2 111.0L458.2 110.3L456.7 108.8L455.3 108.1L453.1 108.1L450.9 108.8L449.5 110.3L448.8 112.4L448.8 113.9L449.5 116.0L450.9 117.5L453.1 118.2L454.6 118.2L456.7 117.5L458.2 116.0M453.1 108.1L451.7 108.8L450.2 110.3L449.5 112.4L449.5 113.9L450.2 116.0L451.7 117.5L453.1 118.2M461.8 108.1L464.7 108.1L464.7 118.2L461.8 118.2M466.8 118.2L464.7 118.2M469.7 118.2L474.8 118.2M477.7 118.2L482.7 118.2M463.9 108.1L463.9 118.2M464.7 110.3L466.1 108.8L468.3 108.1L469.7 108.1L471.9 108.8L472.6 110.3L472.6 118.2M469.7 108.1L471.2 108.8L471.9 110.3L471.9 118.2M472.6 110.3L474.0 108.8L476.2 108.1L477.7 108.1L479.8 108.8L480.5 110.3L480.5 118.2M477.7 108.1L479.1 108.8L479.8 110.3L479.8 118.2M485.9 107.4L493.7 107.4M497.1 104.0L497.6 104.4L497.1 104.8L496.7 104.4L496.7 104.0L497.1 103.1L497.6 102.7L498.9 102.2L500.6 102.2L501.9 102.7L502.3 103.5L502.3 104.8L501.9 105.7L500.6 106.1L499.3 106.1M497.1 109.6L497.6 109.2L497.1 108.7L496.7 109.2L496.7 109.6L497.1 110.5L497.6 110.9L498.9 111.3L500.6 111.3L501.9 110.9L502.3 110.5L502.8 109.6L502.8 108.3L502.3 107.4L501.5 106.6L500.6 106.1L501.5 105.7L501.9 104.8L501.9 103.5L501.5 102.7L500.6 102.2M500.6 111.3L501.5 110.9L501.9 110.5L502.3 109.6L502.3 108.3L501.9 107.0" fill="none" stroke="#00ffff" stroke-width="1.25" stroke-linecap="round" stroke-linejoin="round"/>
<path d="M339.4 129.7L342.1 129.7L342.1 139.8L339.4 139.8M344.1 139.8L342.1 139.8M346.8 139.8L351.5 139.8M341.5 129.7L341.5 139.8M342.1 131.9L343.5 130.4L345.5 129.7L346.8 129.7L348.8 130.4L349.5 131.9L349.5 139.8M346.8 129.7L348.2 130.4L348.8 131.9L348.8 139.8" fill="none" stroke="#ff0000" stroke-width="1.25" stroke-linecap="round" stroke-linejoin="round"/>
<path d="M354.5 137.8L357.2 137.8M354.5 147.4L357.2 147.4M359.6 137.8L362.2 137.8M359.6 147.4L362.2 147.4M355.7 137.8L355.7 147.4M356.1 137.8L356.1 147.4M356.1 142.4L360.7 142.4L360.7 137.8M360.7 142.4L360.7 147.4M361.1 137.8L361.1 147.4" fill="none" stroke="#ff0000" stroke-width="1.25" stroke-linecap="round" stroke-linejoin="round"/>
<path d="M365.3 148.9L365.7 148.5L366.1 147.6L366.1 146.8L365.7 146.4L365.3 146.8L365.7 147.2L366.1 146.8" fill="none" stroke="#ff0000" stroke-width="1.25" stroke-linecap="round" stroke-linejoin="round"/>
<path d="M377.5 142.8L377.2 143.8L376.7 144.4L376.0 144.7L375.3 144.6L374.7 144.3L374.2 143.8L373.7 143.3L373.3 142.8L372.9 142.2L372.4 141.7L371.9 141.2L371.3 140.9L370.6 140.8L369.9 141.1L369.4 141.7L369.1 142.8L369.4 143.8L369.9 144.4L370.6 144.7L371.3 144.6L371.9 144.3L372.4 143.8L372.9 143.3L373.3 142.8L373.7 142.2L374.2 141.7L374.7 141.2L375.3 140.9L376.0 140.8L376.7 141.1L377.2 141.7L377.5 142.8" fill="none" stroke="#ff0000" stroke-width="1.25" stroke-linecap="round" stroke-linejoin="round"/>
<path d="M381.6 131.1L394.6 131.1M381.6 135.5L394.6 135.5M402.7 127.5L404.0 126.7L405.5 124.6L405.5 139.8L408.2 139.8M402.7 139.8L405.5 139.8M404.7 125.4L404.7 139.8M418.4 124.6L416.3 125.4L414.8 127.5L414.1 131.1L414.1 133.3L414.8 136.9L416.3 139.1L418.4 139.8L419.9 139.8L422.1 139.1L423.5 136.9L424.2 133.3L424.2 131.1L423.5 127.5L422.1 125.4L419.9 124.6L418.4 124.6L417.0 125.4L416.3 126.1L415.6 127.5L414.8 131.1L414.8 133.3L415.6 136.9L416.3 138.4L417.0 139.1L418.4 139.8M419.9 124.6L421.3 125.4L422.1 126.1L422.8 127.5L423.5 131.1L423.5 133.3L422.8 136.9L422.1 138.4L421.3 139.1L419.9 139.8M428.1 131.2L428.6 130.8L428.1 130.3L427.7 130.8L427.7 131.2L428.1 132.1L428.6 132.5L429.9 132.9L431.2 132.9L432.5 132.5L433.3 131.6L433.8 130.3L433.8 129.5L433.3 128.2L432.5 127.3L431.2 126.9L429.9 126.9L428.6 127.3L427.7 128.2L428.6 123.8L432.5 123.8M428.6 124.3L430.7 124.3L432.9 123.8M431.2 126.9L432.0 127.3L432.9 128.2L433.3 129.5L433.3 130.3L432.9 131.6L432.0 132.5L431.2 132.9M457.4 131.9L456.7 132.6L457.4 133.3L458.2 132.6L458.2 131.9L456.7 130.4L455.3 129.7L453.1 129.7L450.9 130.4L449.5 131.9L448.8 134.0L448.8 135.5L449.5 137.6L450.9 139.1L453.1 139.8L454.6 139.8L456.7 139.1L458.2 137.6M453.1 129.7L451.7 130.4L450.2 131.9L449.5 134.0L449.5 135.5L450.2 137.6L451.7 139.1L453.1 139.8M461.8 129.7L464.7 129.7L464.7 139.8L461.8 139.8M466.8 139.8L464.7 139.8M469.7 139.8L474.8 139.8M477.7 139.8L482.7 139.8M463.9 129.7L463.9 139.8M464.7 131.9L466.1 130.4L468.3 129.7L469.7 129.7L471.9 130.4L472.6 131.9L472.6 139.8M469.7 129.7L471.2 130.4L471.9 131.9L471.9 139.8M472.6 131.9L474.0 130.4L476.2 129.7L477.7 129.7L479.8 130.4L480.5 131.9L480.5 139.8M477.7 129.7L479.1 130.4L479.8 131.9L479.8 139.8M485.9 129.0L493.7 129.0M497.1 125.6L497.6 126.0L497.1 126.4L496.7 126.0L496.7 125.6L497.1 124.7L497.6 124.3L498.9 123.8L500.6 123.8L501.9 124.3L502.3 125.1L502.3 126.4L501.9 127.3L500.6 127.7L499.3 127.7M497.1 131.2L497.6 130.8L497.1 130.3L496.7 130.8L496.7 131.2L497.1 132.1L497.6 132.5L498.9 132.9L500.6 132.9L501.9 132.5L502.3 132.1L502.8 131.2L502.8 129.9L502.3 129.0L501.5 128.2L500.6 127.7L501.5 127.3L501.9 126.4L501.9 125.1L501.5 124.3L500.6 123.8M500.6 132.9L501.5 132.5L501.9 132.1L502.3 131.2L502.3 129.9L501.9 128.6" fill="none" stroke="#ff0000" stroke-width="1.25" stroke-linecap="round" stroke-linejoin="round"/>
<path d="M339.4 151.6L342.1 151.6L342.1 161.7L339.4 161.7M344.1 161.7L342.1 161.7M346.8 161.7L351.5 161.7M341.5 151.6L341.5 161.7M342.1 153.8L343.5 152.3L345.5 151.6L346.8 151.6L348.8 152.3L349.5 153.8L349.5 161.7M346.8 151.6L348.2 152.3L348.8 153.8L348.8 161.7" fill="none" stroke="#ff00ff" stroke-width="1.25" stroke-linecap="round" stroke-linejoin="round"/>
<path d="M354.5 159.7L357.2 159.7M354.5 169.3L357.2 169.3M359.6 159.7L362.2 159.7M359.6 169.3L362.2 169.3M355.7 159.7L355.7 169.3M356.1 159.7L356.1 169.3M356.1 164.3L360.7 164.3L360.7 159.7M360.7 164.3L360.7 169.3M361.1 159.7L361.1 169.3" fill="none" stroke="#ff00ff" stroke-width="1.25" stroke-linecap="round" stroke-linejoin="round"/>
<path d="M365.3 170.8L365.7 170.4L366.1 169.5L366.1 168.7L365.7 168.3L365.3 168.7L365.7 169.1L366.1 168.7" fill="none" stroke="#ff00ff" stroke-width="1.25" stroke-linecap="round" stroke-linejoin="round"/>
<path d="M377.5 164.6L377.2 165.7L376.7 166.3L376.0 166.6L375.3 166.5L374.7 166.2L374.2 165.7L373.7 165.2L373.3 164.6L372.9 164.1L372.4 163.6L371.9 163.1L371.3 162.8L370.6 162.7L369.9 163.0L369.4 163.6L369.1 164.6L369.4 165.7L369.9 166.3L370.6 166.6L371.3 166.5L371.9 166.2L372.4 165.7L372.9 165.2L373.3 164.6L373.7 164.1L374.2 163.6L374.7 163.1L375.3 162.8L376.0 162.7L376.7 163.0L377.2 163.6L377.5 164.6" fill="none" stroke="#ff00ff" stroke-width="1.25" stroke-linecap="round" stroke-linejoin="round"/>
<path d="M381.6 153.0L394.6 153.0M381.6 157.4L394.6 157.4M402.7 149.4L404.0 148.6L405.5 146.5L405.5 161.7L408.2 161.7M402.7 161.7L405.5 161.7M404.7 147.3L404.7 161.7M418.4 146.5L416.3 147.3L414.8 149.4L414.1 153.0L414.1 155.2L414.8 158.8L416.3 161.0L418.4 161.7L419.9 161.7L422.1 161.0L423.5 158.8L424.2 155.2L424.2 153.0L423.5 149.4L422.1 147.3L419.9 146.5L418.4 146.5L417.0 147.3L416.3 148.0L415.6 149.4L414.8 153.0L414.8 155.2L415.6 158.8L416.3 160.3L417.0 161.0L418.4 161.7M419.9 146.5L421.3 147.3L422.1 148.0L422.8 149.4L423.5 153.0L423.5 155.2L422.8 158.8L422.1 160.3L421.3 161.0L419.9 161.7M428.1 153.1L428.6 152.7L428.1 152.2L427.7 152.7L427.7 153.1L428.1 154.0L428.6 154.4L429.9 154.8L431.2 154.8L432.5 154.4L433.3 153.5L433.8 152.2L433.8 151.4L433.3 150.1L432.5 149.2L431.2 148.8L429.9 148.8L428.6 149.2L427.7 150.1L428.6 145.7L432.5 145.7M428.6 146.2L430.7 146.2L432.9 145.7M431.2 148.8L432.0 149.2L432.9 150.1L433.3 151.4L433.3 152.2L432.9 153.5L432.0 154.4L431.2 154.8M457.4 153.8L456.7 154.5L457.4 155.2L458.2 154.5L458.2 153.8L456.7 152.3L455.3 151.6L453.1 151.6L450.9 152.3L449.5 153.8L448.8 155.9L448.8 157.4L449.5 159.5L450.9 161.0L453.1 161.7L454.6 161.7L456.7 161.0L458.2 159.5M453.1 151.6L451.7 152.3L450.2 153.8L449.5 155.9L449.5 157.4L450.2 159.5L451.7 161.0L453.1 161.7M461.8 151.6L464.7 151.6L464.7 161.7L461.8 161.7M466.8 161.7L464.7 161.7M469.7 161.7L474.8 161.7M477.7 161.7L482.7 161.7M463.9 151.6L463.9 161.7M464.7 153.8L466.1 152.3L468.3 151.6L469.7 151.6L471.9 152.3L472.6 153.8L472.6 161.7M469.7 151.6L471.2 152.3L471.9 153.8L471.9 161.7M472.6 153.8L474.0 152.3L476.2 151.6L477.7 151.6L479.8 152.3L480.5 153.8L480.5 161.7M477.7 151.6L479.1 152.3L479.8 153.8L479.8 161.7M485.9 150.9L493.7 150.9M497.1 147.5L497.6 147.9L497.1 148.3L496.7 147.9L496.7 147.5L497.1 146.6L497.6 146.2L498.9 145.7L500.6 145.7L501.9 146.2L502.3 147.0L502.3 148.3L501.9 149.2L500.6 149.6L499.3 149.6M497.1 153.1L497.6 152.7L497.1 152.2L496.7 152.7L496.7 153.1L497.1 154.0L497.6 154.4L498.9 154.8L500.6 154.8L501.9 154.4L502.3 154.0L502.8 153.1L502.8 151.8L502.3 150.9L501.5 150.1L500.6 149.6L501.5 149.2L501.9 148.3L501.9 147.0L501.5 146.2L500.6 145.7M500.6 154.8L501.5 154.4L501.9 154.0L502.3 153.1L502.3 151.8L501.9 150.5M507.8 164.6L508.6 163.9L509.3 162.4L509.3 161.0L508.6 160.3L507.8 161.0L508.6 161.7L509.3 161.0M523.8 153.8L524.7 151.8L526.2 150.9L527.7 151.2L527.4 154.3L526.5 160.9L527.1 160.9L528.0 154.3L528.3 151.6M528.0 155.1L530.1 152.2L532.5 150.8L534.6 150.8L536.0 152.2L536.3 154.3L535.2 159.1L532.8 165.7L532.2 165.7L534.5 159.1L535.6 154.3L535.3 151.9M541.9 153.0L554.9 153.0M541.9 157.4L554.9 157.4M564.3 146.5L562.1 147.3L560.7 149.4L560.0 153.0L560.0 155.2L560.7 158.8L562.1 161.0L564.3 161.7L565.7 161.7L567.9 161.0L569.3 158.8L570.1 155.2L570.1 153.0L569.3 149.4L567.9 147.3L565.7 146.5L564.3 146.5L562.9 147.3L562.1 148.0L561.4 149.4L560.7 153.0L560.7 155.2L561.4 158.8L562.1 160.3L562.9 161.0L564.3 161.7M565.7 146.5L567.2 147.3L567.9 148.0L568.6 149.4L569.3 153.0L569.3 155.2L568.6 158.8L567.9 160.3L567.2 161.0L565.7 161.7M575.8 161.0L576.5 160.3L577.2 161.0L576.5 161.7L575.8 161.0M586.0 146.5L583.8 147.3L582.3 149.4L581.6 153.0L581.6 155.2L582.3 158.8L583.8 161.0L586.0 161.7L587.4 161.7L589.6 161.0L591.0 158.8L591.7 155.2L591.7 153.0L591.0 149.4L589.6 147.3L587.4 146.5L586.0 146.5L584.5 147.3L583.8 148.0L583.1 149.4L582.3 153.0L582.3 155.2L583.1 158.8L583.8 160.3L584.5 161.0L586.0 161.7M587.4 146.5L588.8 147.3L589.6 148.0L590.3 149.4L591.0 153.0L591.0 155.2L590.3 158.8L589.6 160.3L588.8 161.0L587.4 161.7M599.1 149.4L600.4 148.6L601.8 146.5L601.8 161.7L604.6 161.7M599.1 161.7L601.8 161.7M601.1 147.3L601.1 161.7" fill="none" stroke="#ff00ff" stroke-width="1.25" stroke-linecap="round" stroke-linejoin="round"/>
</svg></body></html>
